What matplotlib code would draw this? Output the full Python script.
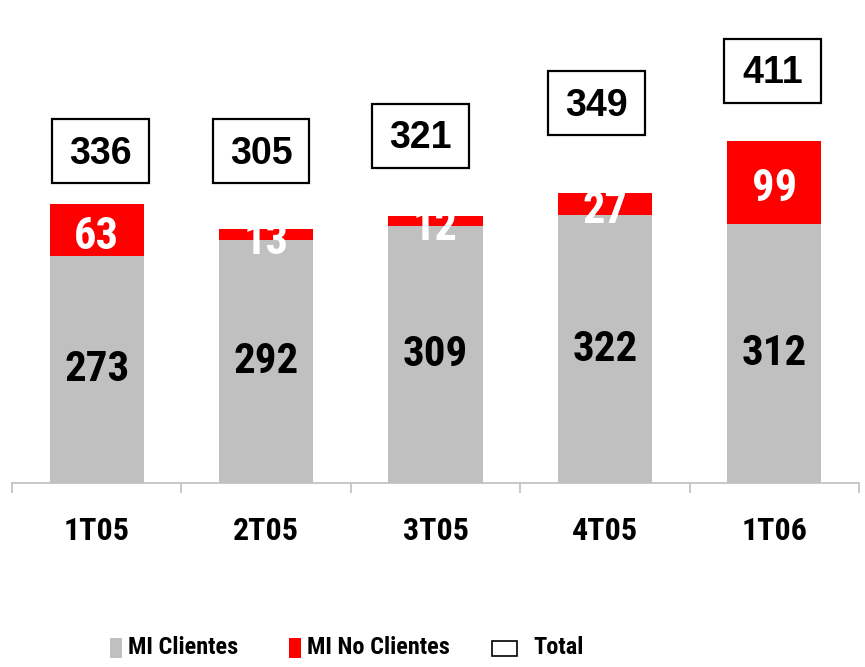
import matplotlib
matplotlib.use("Agg")
import matplotlib.pyplot as plt
from matplotlib import font_manager
from matplotlib.patches import Rectangle

# Data
quarters = ["1T05", "2T05", "3T05", "4T05", "1T06"]
mi_clientes = [273, 292, 309, 322, 312]
mi_no_clientes = [63, 13, 12, 27, 99]
totals = [336, 305, 321, 349, 411]

# layout of the total boxes (data units)
box_y = [399, 399, 418, 457, 496]
box_dx = [0.02, -0.03, -0.09, -0.05, -0.01]

GRAY = "#C0C0C0"
RED = "#FF0000"

# condensed face for the bar labels, like Arial Narrow
names = {f.name for f in font_manager.fontManager.ttflist}
NARROW = "Liberation Sans"
for cand in ["Liberation Sans Narrow", "Roboto Condensed", "Archivo Narrow", "PT Sans Narrow"]:
    if cand in names:
        NARROW = cand
        break
plt.rcParams["font.family"] = ["Liberation Sans", "DejaVu Sans"]
plt.rcParams["font.weight"] = "bold"

fig = plt.figure(figsize=(8.65, 6.67), dpi=100)
ax = fig.add_axes([12 / 865, 184 / 667, 847 / 865, 483 / 667])

x = list(range(len(quarters)))
w = 0.555
ax.bar(x, mi_clientes, width=w, color=GRAY)
ax.bar(x, mi_no_clientes, width=w, bottom=mi_clientes, color=RED)

for i in x:
    ax.text(i, mi_clientes[i] / 2, str(mi_clientes[i]), ha="center", va="center",
            fontsize=31, fontweight="bold", family=NARROW, color="black")
    ax.annotate(str(mi_no_clientes[i]), (i, mi_clientes[i] + mi_no_clientes[i] / 2),
                xytext=(0, -5), textcoords="offset points", ha="center", va="center",
                fontsize=32, fontweight="bold", family=NARROW, color="white")
    bx = i + box_dx[i]
    ax.add_patch(Rectangle((bx - 0.286, box_y[i] - 38.5), 0.572, 77, facecolor="white",
                           edgecolor="black", linewidth=1.6, zorder=3))
    ax.annotate(str(totals[i]), (bx, box_y[i]), xytext=(0, -2), textcoords="offset points",
                ha="center", va="center", fontsize=27, fontweight="bold", zorder=4)

ax.set_xlim(-0.5, 4.5)
ax.set_ylim(0, 581)
for s in ["left", "right", "top"]:
    ax.spines[s].set_visible(False)
ax.spines["bottom"].set_color("#BFBFBF")
ax.spines["bottom"].set_linewidth(1.2)
ax.set_yticks([])
ax.set_xticks(x)
ax.set_xticklabels(quarters, fontsize=23, fontweight="bold", family=NARROW)
ax.tick_params(axis="x", which="major", length=0, pad=24)
ax.set_xticks([i - 0.5 for i in range(len(quarters) + 1)], minor=True)
ax.tick_params(axis="x", which="minor", length=7.5, width=1.2, color="#BFBFBF")

# legend drawn by hand
fig.add_artist(Rectangle((110 / 865, 9 / 667), 12 / 865, 20 / 667, facecolor=GRAY,
                         edgecolor="none", transform=fig.transFigure))
fig.text(128 / 865, 19 / 667, "MI Clientes", fontsize=17.5, fontweight="bold",
         family=NARROW, va="center")
fig.add_artist(Rectangle((289 / 865, 9 / 667), 12 / 865, 20 / 667, facecolor=RED,
                         edgecolor="none", transform=fig.transFigure))
fig.text(307 / 865, 19 / 667, "MI No Clientes", fontsize=17.5, fontweight="bold",
         family=NARROW, va="center")
fig.add_artist(Rectangle((492 / 865, 11 / 667), 25 / 865, 15 / 667, facecolor="white",
                         edgecolor="black", linewidth=1.2, transform=fig.transFigure))
fig.text(533 / 865, 19 / 667, "Total", fontsize=17.5, fontweight="bold",
         family=NARROW, va="center")

fig.savefig("out.png", dpi=100)
